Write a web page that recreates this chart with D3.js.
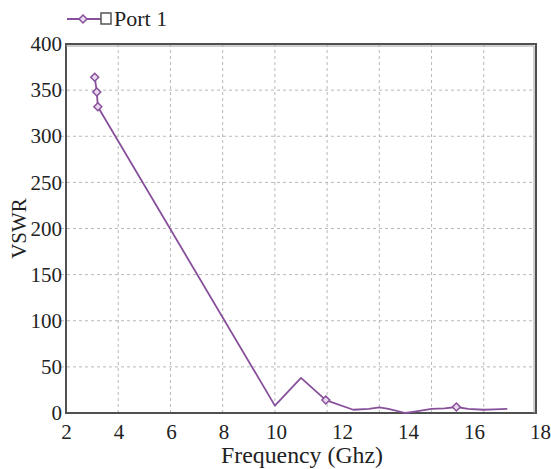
<!DOCTYPE html>
<html>
  <head>
    <meta charset="utf-8">
    <title>VSWR Port 1</title>
    <script src="https://d3js.org/d3.v7.min.js"></script>
    <style>
      body { margin: 0; background: #fff; }
      svg text { font-family: "Liberation Serif", Tinos, "Times New Roman", Times, "DejaVu Serif", serif !important; fill: #222; }
    </style>
  </head>
  <body>
    <div class="chart"></div>
    <script>
      // data
      var freq = [3.1, 3.18, 3.22, 10, 11, 11.95, 13, 13.6, 14, 14.35, 15, 15.35, 16, 16.5, 16.95, 17.4, 18, 18.4, 18.9];
      var vswr = [364, 348, 332, 8, 38, 14, 3.5, 4.5, 6, 4.5, 0, 1.5, 4.5, 5, 6.5, 4.5, 3.5, 4, 4.5];
      var markerIdx = [0, 1, 2, 5, 14];
      var xTicks = [2, 4, 6, 8, 10, 12, 14, 16, 18];
      var xGrid = [4, 6, 8, 10, 12, 14, 16, 18];
      var yTicks = [0, 50, 100, 150, 200, 250, 300, 350, 400];
      var seriesName = "Port 1";

      var width = 551, height = 469;
      var margin = {top: 44, right: 15, bottom: 56, left: 66};
      var lineColor = "#87509b";

      var svg = d3.select(".chart").append("svg")
        .attr("width", width)
        .attr("height", height);

      var x = d3.scaleLinear()
        .domain([2, 20])
        .range([margin.left, width - margin.right]);

      // tick labels in the figure are not spaced like the grid
      var xLabel = d3.scaleLinear()
        .domain([2, 10, 18])
        .range([margin.left, 276, 540]);

      var y = d3.scaleLinear()
        .domain([0, 400])
        .range([height - margin.bottom, margin.top]);

      /*
       * grid
       */
      svg.append("g")
        .selectAll("line")
        .data(xGrid)
        .enter().append("line")
          .attr("x1", d => x(d)).attr("x2", d => x(d))
          .attr("y1", y(400)).attr("y2", y(0))
          .attr("stroke", "#b8b8b8")
          .attr("stroke-dasharray", "3,3");

      svg.append("g")
        .selectAll("line")
        .data(yTicks.slice(1, -1))
        .enter().append("line")
          .attr("x1", x(2) - 5).attr("x2", x(20))
          .attr("y1", d => y(d)).attr("y2", d => y(d))
          .attr("stroke", "#b8b8b8")
          .attr("stroke-dasharray", "3,3");

      /*
       * axes
       */
      var xAxis = svg.append("g")
        .attr("transform", "translate(0," + y(0) + ")")
        .call(d3.axisBottom(xLabel).tickValues(xTicks).tickSize(0).tickPadding(11));
      xAxis.select(".domain").remove();
      xAxis.selectAll("text")
        .style("font-size", "21px")
        .attr("fill", "#222");

      var yAxis = svg.append("g")
        .attr("transform", "translate(" + (x(2) - 4) + ",0)")
        .call(d3.axisLeft(y).tickValues(yTicks).tickSize(0).tickPadding(0));
      yAxis.select(".domain").remove();
      yAxis.selectAll("text")
        .style("font-size", "21px")
        .attr("fill", "#222");

      svg.append("text")
        .attr("x", (220 + 384) / 2)
        .attr("y", 463)
        .attr("text-anchor", "middle")
        .style("font-size", "24px")
        .attr("textLength", 162)
        .attr("lengthAdjust", "spacingAndGlyphs")
        .text("Frequency (Ghz)");

      svg.append("text")
        .attr("transform", "translate(26," + y(200) + ") rotate(-90)")
        .attr("text-anchor", "middle")
        .style("font-size", "21px")
        .text("VSWR");

      // frame
      svg.append("rect")
        .attr("x", x(2)).attr("y", y(400))
        .attr("width", x(20) - x(2))
        .attr("height", y(0) - y(400))
        .attr("fill", "none")
        .attr("stroke", "#505050")
        .attr("stroke-width", 2);
      svg.append("polyline")
        .attr("points", [[x(2), y(400) + 2], [x(20) - 2, y(400) + 2], [x(20) - 2, y(0)]].join(" "))
        .attr("fill", "none")
        .attr("stroke", "#a0a0a0")
        .attr("stroke-width", 1);

      /*
       * series
       */
      var pts = freq.map((f, i) => [f, vswr[i]]);

      svg.append("path")
        .datum(pts)
        .attr("fill", "none")
        .attr("stroke", lineColor)
        .attr("stroke-width", 1.8)
        .attr("stroke-linejoin", "round")
        .attr("d", d3.line().x(d => x(d[0])).y(d => y(d[1])));

      var diamond = d3.symbol().type(d3.symbolDiamond2).size(40);

      svg.append("g")
        .selectAll("path")
        .data(markerIdx.map(i => pts[i]))
        .enter().append("path")
          .attr("transform", d => "translate(" + x(d[0]) + "," + y(d[1]) + ")")
          .attr("d", diamond)
          .attr("fill", "#e9d8ee")
          .attr("stroke", lineColor)
          .attr("stroke-width", 1.5);

      /*
       * legend
       */
      var legend = svg.append("g");
      legend.append("line")
        .attr("x1", 67).attr("x2", 101)
        .attr("y1", 19).attr("y2", 19)
        .attr("stroke", lineColor)
        .attr("stroke-width", 1.8);
      legend.append("path")
        .attr("transform", "translate(83,19)")
        .attr("d", diamond)
        .attr("fill", "#e9d8ee")
        .attr("stroke", lineColor)
        .attr("stroke-width", 1.5);
      legend.append("rect")
        .attr("x", 101).attr("y", 13)
        .attr("width", 10).attr("height", 11)
        .attr("fill", "#fff")
        .attr("stroke", "#555")
        .attr("stroke-width", 1.5);
      legend.append("text")
        .attr("x", 114).attr("y", 26)
        .style("font-size", "22px")
        .text(seriesName);
    </script>
  </body>
</html>
